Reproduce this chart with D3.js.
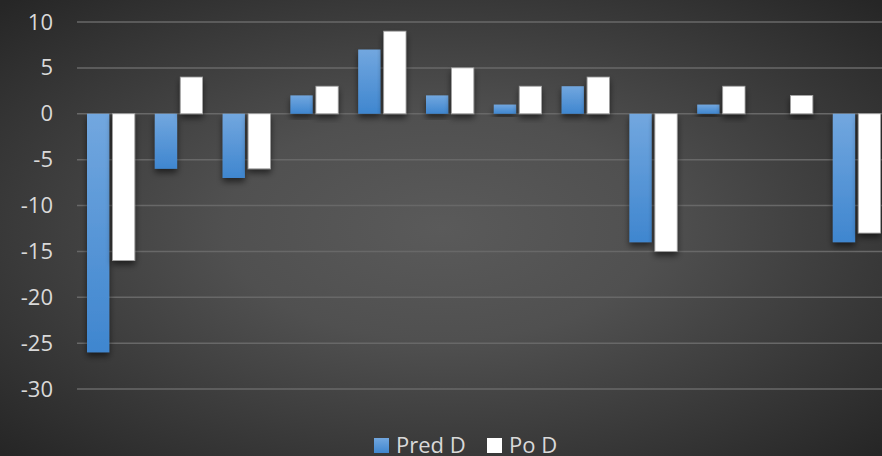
<!DOCTYPE html>
<html>
<head>
<meta charset="utf-8">
<script src="https://cdn.jsdelivr.net/npm/d3@7"></script>
<style>
  html, body { margin: 0; padding: 0; background: #333; overflow: hidden; }
  svg { display: block; }
  text { font-family: "Open Sans", sans-serif; }
</style>
</head>
<body>
<div id="chart"></div>
<script>
// 資料
var categories = ["1", "2", "3", "4", "5", "6", "7", "8", "9", "10", "11", "12"];
var seriesNames = ["Pred D", "Po D"];
var predD = [-26, -6, -7, 2, 7, 2, 1, 3, -14, 1, 0, -14];
var poD = [-16, 4, -6, 3, 9, 5, 3, 4, -15, 3, 2, -13];
var yTicks = [-30, -25, -20, -15, -10, -5, 0, 5, 10];

var width = 882;
var height = 456;

var svg = d3.select("#chart").append("svg")
  .attr("width", width)
  .attr("height", height);

var defs = svg.append("defs");

// 背景漸層
var bg = defs.append("radialGradient")
  .attr("id", "bg")
  .attr("cx", "50%").attr("cy", "50%").attr("r", "70%");
bg.append("stop").attr("offset", "0%").attr("stop-color", "#5a5a5a");
bg.append("stop").attr("offset", "35%").attr("stop-color", "#505050");
bg.append("stop").attr("offset", "100%").attr("stop-color", "#262626");

// 藍色長條漸層
var blue = defs.append("linearGradient")
  .attr("id", "blue")
  .attr("x1", 0).attr("y1", 0).attr("x2", 0).attr("y2", 1);
blue.append("stop").attr("offset", "0%").attr("stop-color", "#72a7df");
blue.append("stop").attr("offset", "100%").attr("stop-color", "#3f86cf");

// 陰影
var shadow = defs.append("filter")
  .attr("id", "shadow")
  .attr("x", "-30%").attr("y", "-30%").attr("width", "160%").attr("height", "160%");
shadow.append("feDropShadow")
  .attr("dx", 0).attr("dy", 4)
  .attr("stdDeviation", 3)
  .attr("flood-color", "#000")
  .attr("flood-opacity", 0.55);

svg.append("rect")
  .attr("width", width)
  .attr("height", height)
  .attr("fill", "url(#bg)");

// 比例尺
var x0 = d3.scaleBand()
  .domain(categories)
  .range([77, 77 + 12 * 67.8]);

var x1 = d3.scaleBand()
  .domain(seriesNames)
  .range([10, 57.8])
  .paddingInner(0.125);

var y = d3.scaleLinear()
  .domain([-30, 10])
  .range([389, 22]);

// 格線
svg.append("g")
  .selectAll("line")
  .data(yTicks)
  .enter().append("line")
  .attr("x1", 77)
  .attr("x2", width)
  .attr("y1", d => y(d))
  .attr("y2", d => y(d))
  .style("stroke", "#686868")
  .style("stroke-width", 1.5);

// Y 軸（用一般連字號當負號）
var yAxis = d3.axisLeft(y).tickValues(yTicks).tickSize(0).tickPadding(0)
  .tickFormat(d => String(d));
var yg = svg.append("g")
  .attr("transform", "translate(53,0)")
  .call(yAxis);
yg.select(".domain").remove();
yg.selectAll("text")
  .style("font-size", "22px")
  .style("fill", "#d9d9d9");

// 長條
var rows = categories.map(function (c, i) {
  return { cat: c, values: [{ key: "Pred D", value: predD[i] }, { key: "Po D", value: poD[i] }] };
});

var groups = svg.append("g")
  .selectAll("g")
  .data(rows)
  .enter().append("g")
  .attr("transform", d => "translate(" + x0(d.cat) + ",0)");

groups.selectAll("rect")
  .data(d => d.values.filter(v => v.value !== 0))
  .enter().append("rect")
  .attr("x", d => x1(d.key))
  .attr("width", x1.bandwidth())
  .attr("y", d => y(Math.max(0, d.value)))
  .attr("height", d => Math.abs(y(d.value) - y(0)))
  .attr("fill", d => d.key === "Pred D" ? "url(#blue)" : "#ffffff")
  .attr("stroke", d => d.key === "Pred D" ? "none" : "#a0a0a0")
  .attr("stroke-width", 0.8)
  .attr("filter", "url(#shadow)");

// 圖例
var legend = svg.append("g");
var legendItems = [
  { key: "Pred D", x: 374, fill: "url(#blue)" },
  { key: "Po D", x: 487, fill: "#ffffff" }
];
legendItems.forEach(function (d) {
  legend.append("rect")
    .attr("x", d.x)
    .attr("y", 438)
    .attr("width", 15)
    .attr("height", 15)
    .attr("fill", d.fill);
  legend.append("text")
    .attr("x", d.x + 22)
    .attr("y", 453)
    .style("font-size", "22px")
    .style("fill", "#d9d9d9")
    .text(d.key);
});
</script>
</body>
</html>
